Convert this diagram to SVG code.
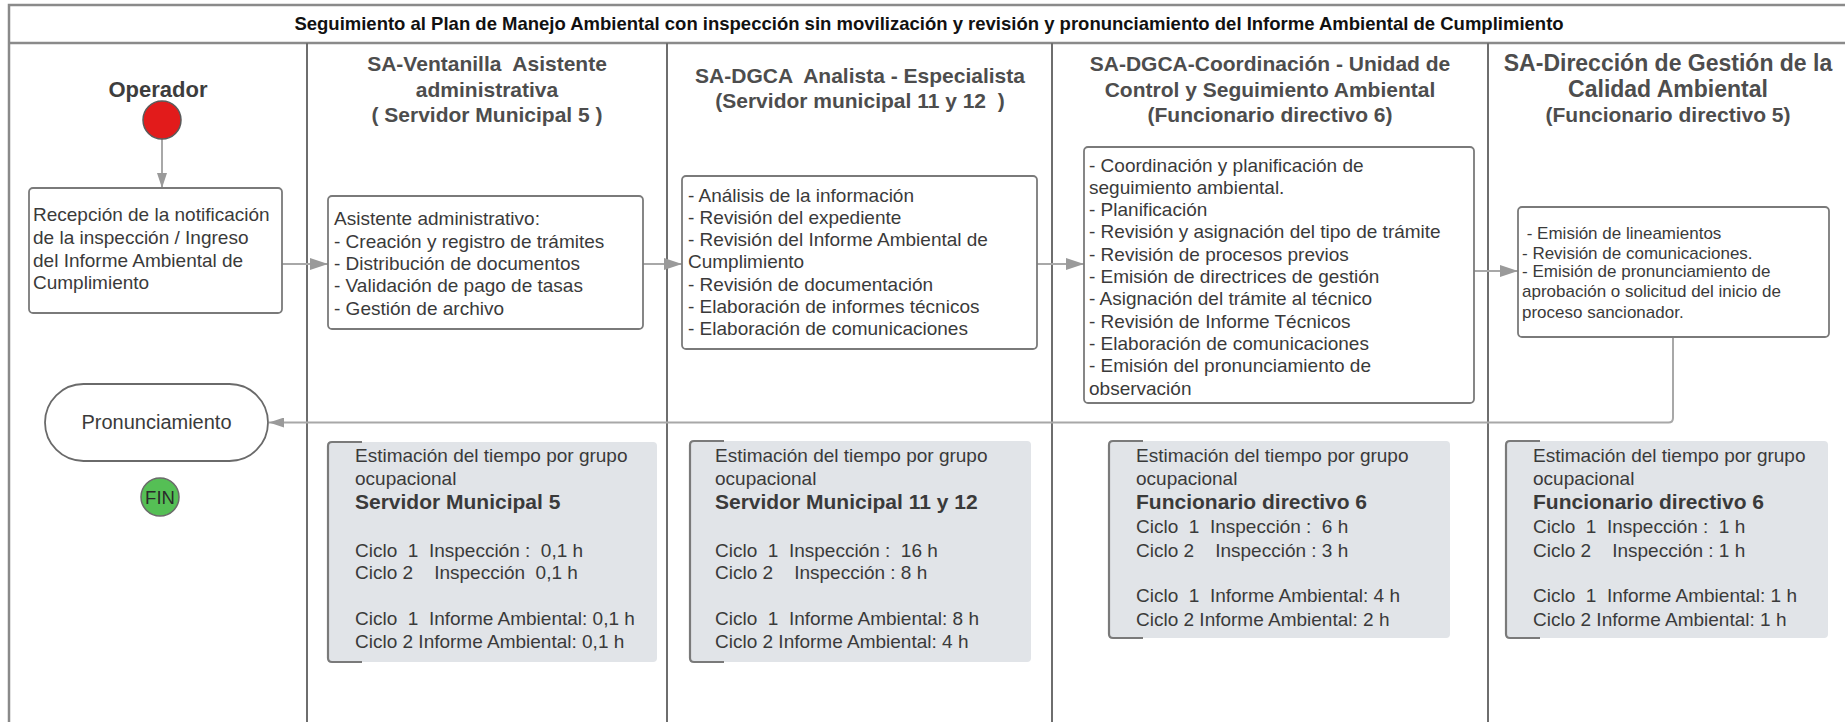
<svg xmlns="http://www.w3.org/2000/svg" width="1845" height="722" viewBox="0 0 1845 722">
<style>
text{font-family:"Liberation Sans",Arial,sans-serif;white-space:pre}
.t{font-size:19px;fill:#3a3a3a}
.s{font-size:17px;fill:#3a3a3a}
.h{font-size:21px;font-weight:bold;fill:#4d4d4d;text-anchor:middle}
.h2{font-size:23px;font-weight:bold;fill:#4d4d4d;text-anchor:middle}
.b{font-size:21px;font-weight:bold;fill:#3a3a3a}
.box{fill:#fff;stroke:#7a7a7a;stroke-width:1.8}
.note{fill:#e1e4e8}
.br{fill:none;stroke:#7a7a7a;stroke-width:2.2}
.lane{stroke:#6e6e6e;stroke-width:2}
.frame{fill:none;stroke:#8a8a8a;stroke-width:2.5}
.con{fill:none;stroke:#a8a8a8;stroke-width:2}
</style>
<defs>
<marker id="ah" markerUnits="userSpaceOnUse" viewBox="0 0 18 12" markerWidth="18" markerHeight="12" refX="18" refY="6" orient="auto"><path d="M0,0 L18,6 L0,12 z" fill="#9a9a9a"/></marker>
<marker id="ahs" markerUnits="userSpaceOnUse" viewBox="0 0 15 10" markerWidth="15" markerHeight="10" refX="15" refY="5" orient="auto"><path d="M0,0 L15,5 L0,10 z" fill="#9a9a9a"/></marker>
</defs>
<rect width="1845" height="722" fill="#fff"/>
<g id="pool">
<rect class="frame" x="9" y="5" width="1850" height="740"/>
<line class="frame" x1="9" y1="43" x2="1860" y2="43"/>
<text x="929" y="30" style="font-size:18.5px;font-weight:bold;fill:#111;text-anchor:middle">Seguimiento al Plan de Manejo Ambiental con inspección sin movilización y revisión y pronunciamiento del Informe Ambiental de Cumplimiento</text>
<line class="lane" x1="307" y1="43" x2="307" y2="730"/>
<line class="lane" x1="667" y1="43" x2="667" y2="730"/>
<line class="lane" x1="1052" y1="43" x2="1052" y2="730"/>
<line class="lane" x1="1488" y1="43" x2="1488" y2="730"/>
</g>
<g id="lane-headers">
<text x="158" y="97" style="font-size:22px;font-weight:bold;fill:#3d3d3d;text-anchor:middle">Operador</text>
<text class="h" x="487" y="71">SA-Ventanilla  Asistente</text>
<text class="h" x="487" y="97">administrativa</text>
<text class="h" x="487" y="122">( Servidor Municipal 5 )</text>
<text class="h" x="860" y="83">SA-DGCA  Analista - Especialista</text>
<text class="h" x="860" y="108">(Servidor municipal 11 y 12  )</text>
<text class="h" x="1270" y="71">SA-DGCA-Coordinación - Unidad de</text>
<text class="h" x="1270" y="97">Control y Seguimiento Ambiental</text>
<text class="h" x="1270" y="122">(Funcionario directivo 6)</text>
<text class="h2" x="1668" y="71">SA-Dirección de Gestión de la</text>
<text class="h2" x="1668" y="97">Calidad Ambiental</text>
<text class="h" x="1668" y="122">(Funcionario directivo 5)</text>
</g>
<g id="connectors">
<path class="con" d="M162,139 V188" marker-end="url(#ahs)"/>
<path class="con" d="M282,264 H328" marker-end="url(#ah)"/>
<path class="con" d="M643,264 H682" marker-end="url(#ah)"/>
<path class="con" d="M1037,264 H1084" marker-end="url(#ah)"/>
<path class="con" d="M1474,271 H1518" marker-end="url(#ah)"/>
<path class="con" d="M1673,337 V418 Q1673,422.5 1668.5,422.5 H269" marker-end="url(#ahs)"/>
</g>
<g id="start">
<circle cx="162" cy="120" r="19" fill="#e21b1b" stroke="#5a5a5a" stroke-width="1.5"/>
</g>
<g id="recepcion">
<rect class="box" x="29" y="188" width="253" height="125" rx="4"/>
<text class="t" x="33" y="220.5">Recepción de la notificación</text>
<text class="t" x="33" y="243.5">de la inspección / Ingreso</text>
<text class="t" x="33" y="266.5">del Informe Ambiental de</text>
<text class="t" x="33" y="289">Cumplimiento</text>
</g>
<g id="ventanilla">
<rect class="box" x="328" y="196" width="315" height="133" rx="4"/>
<text class="t" x="334" y="225">Asistente administrativo:</text>
<text class="t" x="334" y="247.5">- Creación y registro de trámites</text>
<text class="t" x="334" y="270">- Distribución de documentos</text>
<text class="t" x="334" y="292">- Validación de pago de tasas</text>
<text class="t" x="334" y="314.5">- Gestión de archivo</text>
</g>
<g id="analista">
<rect class="box" x="682" y="176" width="355" height="173" rx="4"/>
<text class="t" x="688" y="201.5">- Análisis de la información</text>
<text class="t" x="688" y="223.8">- Revisión del expediente</text>
<text class="t" x="688" y="246.1">- Revisión del Informe Ambiental de</text>
<text class="t" x="688" y="268.4">Cumplimiento</text>
<text class="t" x="688" y="290.7">- Revisión de documentación</text>
<text class="t" x="688" y="313">- Elaboración de informes técnicos</text>
<text class="t" x="688" y="335.3">- Elaboración de comunicaciones</text>
</g>
<g id="coordinacion">
<rect class="box" x="1084" y="147" width="390" height="256" rx="4"/>
<text class="t" x="1089" y="171.5">- Coordinación y planificación de</text>
<text class="t" x="1089" y="193.8">seguimiento ambiental.</text>
<text class="t" x="1089" y="216.1">- Planificación</text>
<text class="t" x="1089" y="238.4">- Revisión y asignación del tipo de trámite</text>
<text class="t" x="1089" y="260.7">- Revisión de procesos previos</text>
<text class="t" x="1089" y="283">- Emisión de directrices de gestión</text>
<text class="t" x="1089" y="305.3">- Asignación del trámite al técnico</text>
<text class="t" x="1089" y="327.6">- Revisión de Informe Técnicos</text>
<text class="t" x="1089" y="349.9">- Elaboración de comunicaciones</text>
<text class="t" x="1089" y="372.2">- Emisión del pronunciamiento de</text>
<text class="t" x="1089" y="394.5">observación</text>
</g>
<g id="direccion">
<rect class="box" x="1518" y="207" width="311" height="130" rx="4"/>
<text class="s" x="1522" y="239"> - Emisión de lineamientos</text>
<text class="s" x="1522" y="259">- Revisión de comunicaciones.</text>
<text class="s" x="1522" y="277">- Emisión de pronunciamiento de</text>
<text class="s" x="1522" y="297">aprobación o solicitud del inicio de</text>
<text class="s" x="1522" y="317.5">proceso sancionador.</text>
</g>
<g id="pronunciamiento">
<rect x="45" y="384" width="223" height="77" rx="38.5" fill="#fff" stroke="#6a6a6a" stroke-width="1.8"/>
<text x="156.5" y="429" style="font-size:20px;fill:#3a3a3a;text-anchor:middle">Pronunciamiento</text>
</g>
<g id="fin">
<circle cx="160" cy="497" r="19" fill="#55bf55" stroke="#6a6a6a" stroke-width="1.5"/>
<text x="160" y="503.5" style="font-size:18.5px;fill:#2a2a2a;text-anchor:middle">FIN</text>
</g>
<g id="nota-ventanilla">
<rect class="note" x="328" y="442" width="329" height="220" rx="4"/>
<path class="br" d="M362,442 H332 Q328,442 328,446 V658 Q328,662 332,662 H362"/>
<text class="t" x="355" y="462">Estimación del tiempo por grupo</text>
<text class="t" x="355" y="484.5">ocupacional</text>
<text class="b" x="355" y="509">Servidor Municipal 5</text>
<text class="t" x="355" y="556.5">Ciclo  1  Inspección :  0,1 h</text>
<text class="t" x="355" y="579">Ciclo 2    Inspección  0,1 h</text>
<text class="t" x="355" y="625">Ciclo  1  Informe Ambiental: 0,1 h</text>
<text class="t" x="355" y="647.5">Ciclo 2 Informe Ambiental: 0,1 h</text>
</g>
<g id="nota-analista">
<rect class="note" x="690" y="441" width="341" height="221" rx="4"/>
<path class="br" d="M724,441 H694 Q690,441 690,445 V658 Q690,662 694,662 H724"/>
<text class="t" x="715" y="462">Estimación del tiempo por grupo</text>
<text class="t" x="715" y="484.5">ocupacional</text>
<text class="b" x="715" y="509">Servidor Municipal 11 y 12</text>
<text class="t" x="715" y="556.5">Ciclo  1  Inspección :  16 h</text>
<text class="t" x="715" y="579">Ciclo 2    Inspección : 8 h</text>
<text class="t" x="715" y="625">Ciclo  1  Informe Ambiental: 8 h</text>
<text class="t" x="715" y="647.5">Ciclo 2 Informe Ambiental: 4 h</text>
</g>
<g id="nota-coordinacion">
<rect class="note" x="1109" y="441" width="341" height="197" rx="4"/>
<path class="br" d="M1143,441 H1113 Q1109,441 1109,445 V634 Q1109,638 1113,638 H1143"/>
<text class="t" x="1136" y="462">Estimación del tiempo por grupo</text>
<text class="t" x="1136" y="484.5">ocupacional</text>
<text class="b" x="1136" y="509">Funcionario directivo 6</text>
<text class="t" x="1136" y="533">Ciclo  1  Inspección :  6 h</text>
<text class="t" x="1136" y="556.5">Ciclo 2    Inspección : 3 h</text>
<text class="t" x="1136" y="602">Ciclo  1  Informe Ambiental: 4 h</text>
<text class="t" x="1136" y="625.5">Ciclo 2 Informe Ambiental: 2 h</text>
</g>
<g id="nota-direccion">
<rect class="note" x="1506" y="441" width="322" height="197" rx="4"/>
<path class="br" d="M1540,441 H1510 Q1506,441 1506,445 V634 Q1506,638 1510,638 H1540"/>
<text class="t" x="1533" y="462">Estimación del tiempo por grupo</text>
<text class="t" x="1533" y="484.5">ocupacional</text>
<text class="b" x="1533" y="509">Funcionario directivo 6</text>
<text class="t" x="1533" y="533">Ciclo  1  Inspección :  1 h</text>
<text class="t" x="1533" y="556.5">Ciclo 2    Inspección : 1 h</text>
<text class="t" x="1533" y="602">Ciclo  1  Informe Ambiental: 1 h</text>
<text class="t" x="1533" y="625.5">Ciclo 2 Informe Ambiental: 1 h</text>
</g>
</svg>
